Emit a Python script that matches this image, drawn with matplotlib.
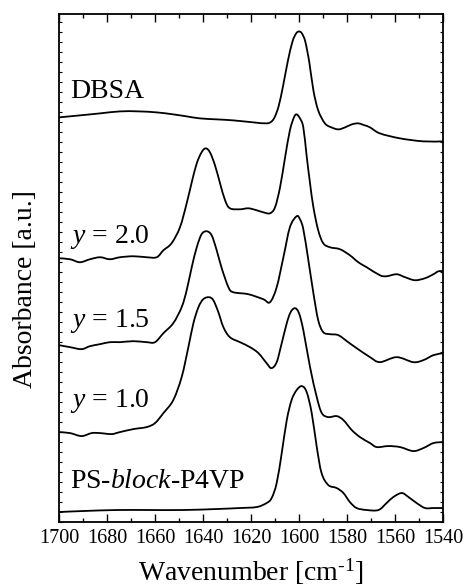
import matplotlib
matplotlib.use("Agg")
import matplotlib.pyplot as plt
from matplotlib.path import Path
from matplotlib.patches import PathPatch
from matplotlib.ticker import MultipleLocator, NullFormatter

# FTIR spectra, stacked (absorbance in arbitrary units incl. offset)
wn_dbsa = [1700, 1691.3, 1682.9, 1674.6, 1666.9, 1659.3, 1652.4, 1646.8, 1641.3, 1634.3,
           1627.4, 1619.0, 1613.5, 1611.4, 1610.0, 1608.4, 1606.6, 1604.6, 1602.7, 1601.2,
           1600.0, 1598.8, 1597.4, 1595.7, 1594.0, 1592.0, 1589.2, 1586.5, 1583.6, 1580.8,
           1578.0, 1575.3, 1572.6, 1570.4, 1566.3, 1557.9, 1548.2, 1540.0]
ab_dbsa = [4.05, 4.07, 4.09, 4.11, 4.11, 4.10, 4.08, 4.06, 4.04, 4.03,
           4.02, 4.00, 3.99, 4.01, 4.06, 4.17, 4.37, 4.62, 4.81, 4.89,
           4.91, 4.89, 4.81, 4.60, 4.32, 4.12, 3.99, 3.95, 3.93, 3.95,
           3.98, 3.99, 3.97, 3.95, 3.89, 3.84, 3.81, 3.81]

wn_y20 = [1700, 1695.4, 1691.3, 1687.1, 1682.9, 1678.8, 1674.6, 1669.0, 1663.5, 1659.3,
          1656.5, 1653.1, 1649.6, 1646.8, 1644.7, 1642.6, 1640.6, 1638.9, 1637.1, 1635.0,
          1632.9, 1630.8, 1628.8, 1624.6, 1621.1, 1617.6, 1614.9, 1612.1, 1610.0, 1607.9,
          1605.8, 1603.8, 1602.1, 1601.0, 1599.6, 1598.2, 1596.8, 1595.4, 1594.0, 1592.0,
          1589.9, 1587.1, 1582.9, 1578.8, 1575.3, 1571.8, 1566.3, 1563.5, 1559.3, 1555.8,
          1551.7, 1547.5, 1544.0, 1541.9, 1540.0]
ab_y20 = [2.64, 2.63, 2.60, 2.63, 2.65, 2.63, 2.65, 2.66, 2.65, 2.65,
          2.72, 2.79, 2.95, 3.19, 3.40, 3.59, 3.70, 3.74, 3.70, 3.57,
          3.39, 3.22, 3.14, 3.13, 3.14, 3.12, 3.10, 3.09, 3.15, 3.35,
          3.65, 3.92, 4.05, 4.08, 4.04, 3.95, 3.66, 3.39, 3.15, 2.92,
          2.79, 2.75, 2.73, 2.67, 2.60, 2.55, 2.47, 2.46, 2.48, 2.45,
          2.42, 2.44, 2.48, 2.51, 2.51]

wn_y15 = [1700, 1695.4, 1690.6, 1687.1, 1682.9, 1678.8, 1674.6, 1669.0, 1663.5, 1660.0,
          1656.5, 1652.4, 1648.9, 1646.8, 1644.7, 1642.6, 1640.6, 1638.5, 1636.4, 1634.3,
          1632.2, 1629.4, 1627.4, 1621.1, 1614.9, 1612.1, 1609.3, 1606.5, 1603.8, 1601.0,
          1599.6, 1598.2, 1596.1, 1594.0, 1592.0, 1589.9, 1587.1, 1583.6, 1579.5, 1576.0,
          1570.4, 1566.3, 1559.3, 1552.4, 1548.2, 1544.0, 1540.0]
ab_y15 = [1.77, 1.75, 1.73, 1.76, 1.78, 1.80, 1.80, 1.81, 1.80, 1.80,
          1.89, 1.99, 2.15, 2.32, 2.55, 2.75, 2.88, 2.91, 2.87, 2.72,
          2.54, 2.35, 2.30, 2.28, 2.23, 2.20, 2.35, 2.65, 2.95, 3.06,
          3.03, 2.93, 2.62, 2.29, 2.02, 1.90, 1.88, 1.87, 1.80, 1.74,
          1.65, 1.60, 1.65, 1.60, 1.62, 1.67, 1.69]

wn_y10 = [1700, 1695.4, 1690.6, 1686.4, 1682.9, 1678.1, 1674.6, 1669.0, 1663.5, 1660.0,
          1656.5, 1652.4, 1648.9, 1646.1, 1644.0, 1641.9, 1639.9, 1637.5, 1635.7, 1633.6,
          1631.5, 1628.8, 1624.6, 1620.4, 1616.9, 1613.5, 1611.5, 1609.3, 1607.2, 1605.1,
          1603.5, 1601.7, 1600.0, 1598.2, 1595.4, 1592.6, 1590.5, 1587.8, 1584.3, 1581.5,
          1578.0, 1574.6, 1570.4, 1567.6, 1562.8, 1557.9, 1552.4, 1548.2, 1544.0, 1540.0]
ab_y10 = [0.90, 0.89, 0.86, 0.89, 0.89, 0.88, 0.90, 0.93, 0.95, 0.99,
          1.09, 1.22, 1.45, 1.75, 1.99, 2.15, 2.23, 2.25, 2.22, 2.10,
          1.95, 1.85, 1.80, 1.75, 1.69, 1.59, 1.54, 1.60, 1.79, 1.99,
          2.10, 2.14, 2.09, 1.92, 1.55, 1.25, 1.09, 1.05, 1.06, 1.02,
          0.92, 0.85, 0.79, 0.75, 0.76, 0.75, 0.71, 0.74, 0.79, 0.80]

wn_ps = [1700, 1689.9, 1676.0, 1662.1, 1648.2, 1634.3, 1624.6, 1617.6, 1613.5, 1611.4,
         1609.3, 1607.2, 1605.1, 1603.1, 1601.0, 1598.8, 1596.8, 1594.7, 1592.6, 1590.6,
         1587.8, 1584.3, 1581.5, 1578.8, 1576.0, 1571.8, 1566.9, 1563.5, 1560.7, 1557.2,
         1554.4, 1551.0, 1547.5, 1544.0, 1540.0]
ab_ps = [0.10, 0.11, 0.12, 0.12, 0.12, 0.13, 0.14, 0.15, 0.19, 0.24,
         0.39, 0.69, 1.02, 1.22, 1.32, 1.36, 1.30, 1.09, 0.75, 0.49,
         0.37, 0.34, 0.29, 0.20, 0.14, 0.12, 0.12, 0.19, 0.25, 0.29,
         0.25, 0.19, 0.14, 0.14, 0.14]

labels = ["DBSA", "$y$ = 2.0", "$y$ = 1.5", "$y$ = 1.0", "PS-$block$-P4VP"]
label_y = [4.24, 2.79, 1.95, 1.15, 0.34]


def smooth_path(x, y):
    """Catmull-Rom curve through the read points, drawn as cubic Bezier segments."""
    pts = list(zip(x, y))
    pts = [pts[0]] + pts + [pts[-1]]
    verts = [pts[1]]
    codes = [Path.MOVETO]
    for i in range(1, len(pts) - 2):
        p0, p1, p2, p3 = pts[i - 1], pts[i], pts[i + 1], pts[i + 2]
        c1 = (p1[0] + (p2[0] - p0[0]) / 6, p1[1] + (p2[1] - p0[1]) / 6)
        c2 = (p2[0] - (p3[0] - p1[0]) / 6, p2[1] - (p3[1] - p1[1]) / 6)
        verts += [c1, c2, p2]
        codes += [Path.CURVE4] * 3
    return Path(verts, codes)


plt.rcParams["font.family"] = "Liberation Serif"
plt.rcParams["mathtext.fontset"] = "custom"
plt.rcParams["mathtext.rm"] = "Liberation Serif"
plt.rcParams["mathtext.it"] = "Liberation Serif:italic"

fig = plt.figure(figsize=(4.65, 5.86), dpi=100)
ax = fig.add_axes([0.1269, 0.1092, 0.8258, 0.8661])

spectra = [(wn_dbsa, ab_dbsa), (wn_y20, ab_y20), (wn_y15, ab_y15),
           (wn_y10, ab_y10), (wn_ps, ab_ps)]
for (wn, ab), lab, ly in zip(spectra, labels, label_y):
    ax.add_patch(PathPatch(smooth_path(wn, ab), facecolor="none",
                           edgecolor="black", linewidth=1.3))
    ax.text(1695.5, ly, lab, fontsize=20, va="baseline", ha="left")

ax.set_xlim(1700, 1540)
ax.set_ylim(0, 5.08)
ax.xaxis.set_major_locator(MultipleLocator(20))
ax.xaxis.set_minor_locator(MultipleLocator(10))
ax.yaxis.set_major_locator(MultipleLocator(0.1))
ax.yaxis.set_major_formatter(NullFormatter())
ax.tick_params(axis="x", which="major", direction="in", top=True, length=6,
               width=1.0, labelsize=14.5, pad=5)
ax.tick_params(axis="x", which="minor", direction="in", top=True, length=3, width=1.0)
ax.tick_params(axis="y", which="major", direction="in", right=True, length=2, width=0.8)
for s in ax.spines.values():
    s.set_linewidth(1.3)

ax.set_xlabel("Wavenumber [cm$^{\\text{-1}}$]", fontsize=20, labelpad=6)
ax.set_ylabel("Absorbance [a.u.]", fontsize=20)
ax.yaxis.set_label_coords(-0.055, 0.458)

fig.savefig("out.png", dpi=100)
